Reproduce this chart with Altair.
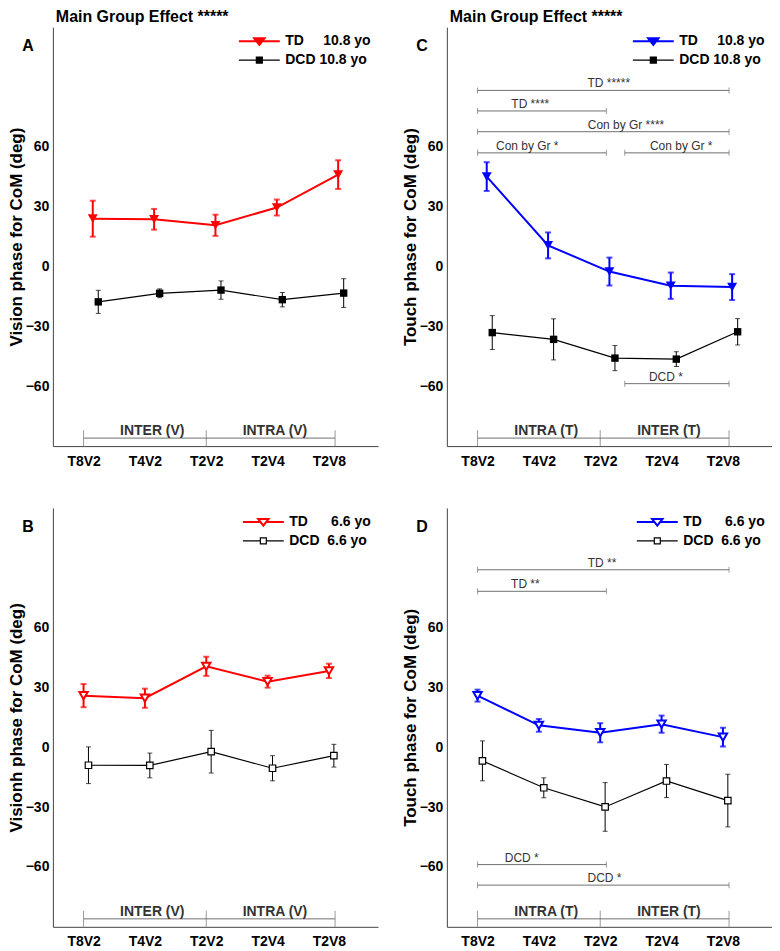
import altair as alt
import pandas as pd

conditions = ["T8V2", "T4V2", "T2V2", "T2V4", "T2V8"]
groups = ["TD", "DCD"]

# Panel A - vision phase, 10.8 yo
a_td_mean = [24.0, 23.7, 20.7, 29.6, 46.1]
a_td_err = [9.0, 5.2, 5.3, 4.0, 7.2]
a_dcd_mean = [-17.7, -13.4, -11.8, -16.6, -13.3]
a_dcd_err = [5.8, 2.2, 4.6, 3.6, 7.2]

# Panel B - vision phase, 6.6 yo
b_td_mean = [25.9, 24.6, 40.6, 32.9, 38.3]
b_td_err = [5.8, 4.8, 4.8, 3.0, 3.6]
b_dcd_mean = [-9.0, -9.1, -2.2, -10.5, -4.2]
b_dcd_err = [9.2, 6.2, 10.7, 6.3, 5.7]

# Panel C - touch phase, 10.8 yo
c_td_mean = [45.1, 10.6, -2.5, -9.6, -10.3]
c_td_err = [7.2, 6.5, 7.0, 6.6, 6.5]
c_dcd_mean = [-33.1, -36.5, -45.9, -46.4, -32.7]
c_dcd_err = [8.5, 10.3, 6.3, 3.7, 6.6]

# Panel D - touch phase, 6.6 yo
d_td_mean = [25.9, 11.0, 7.3, 11.6, 5.1]
d_td_err = [3.0, 3.2, 4.8, 4.3, 4.7]
d_dcd_mean = [-6.8, -20.3, -29.9, -16.9, -26.7]
d_dcd_err = [10.0, 5.0, 12.2, 8.3, 13.2]

NB = "\u00a0"
legend_old = ["TD" + NB * 5 + "10.8 yo", "DCD" + NB + "10.8 yo"]
legend_young = ["TD" + NB * 6 + "6.6 yo", "DCD" + NB * 2 + "6.6 yo"]

ytitle_a = "Vision phase for CoM (deg)"
ytitle_b = "Visionh phase for CoM (deg)"
ytitle_touch = "Touch phase for CoM (deg)"
main_title = "Main Group Effect *****"

# Condition section brackets (bottom)
vision_sections = ["INTER (V)", "INTRA (V)"]
touch_sections = ["INTRA (T)", "INTER (T)"]
section_tx = [2.12, 4.12]
section_edges = [1, 3, 5.1]
section_y = -86

# Significance brackets, panel C
c_br_x1 = [1, 1, 1, 1, 3.4, 3.4]
c_br_x2 = [5.1, 3.1, 5.1, 3.1, 5.1, 5.1]
c_br_y = [88.3, 78.0, 67.6, 57.0, 57.0, -58.7]
c_br_text = ["TD *****", "TD ****", "Con by Gr ****", "Con by Gr *", "Con by Gr *", "DCD *"]
c_br_tx = [3.14, 1.86, 3.42, 1.81, 4.32, 4.07]

# Significance brackets, panel D
d_br_x1 = [1, 1, 1, 1]
d_br_x2 = [5.1, 3.1, 3.1, 5.1]
d_br_y = [89.0, 78.2, -58.8, -69.1]
d_br_text = ["TD **", "TD **", "DCD *", "DCD *"]
d_br_tx = [3.03, 1.78, 1.72, 3.07]

W, H = 326, 420
X_SCALE = alt.Scale(domain=[0.5, 5.8], nice=False, zero=False)
Y_SCALE = alt.Scale(domain=[-90, 120], nice=False, zero=False)
LABEL_EXPR = "[" + ",".join("'%s'" % c for c in conditions) + "][datum.value - 1]"
LINE_GRAY = "#707070"
TEXT_GRAY = "#333333"


def panel(letter, ytitle, td_mean, td_err, dcd_mean, dcd_err, main_color, filled,
          dodge, legend_labels, section_labels, brackets=None, title=None):
    x_axis = alt.Axis(values=[1, 2, 3, 4, 5], labelExpr=LABEL_EXPR, title=None, ticks=False,
                      grid=False, domainColor="#444444", labelFontSize=14, labelFontWeight="bold",
                      labelColor="black", labelPadding=8, minExtent=22, maxExtent=22,
                      labelFlush=False)
    y_axis = alt.Axis(values=[-60, -30, 0, 30, 60], title=ytitle, ticks=False, grid=False,
                      domainColor="#444444", labelFontSize=14, labelFontWeight="bold",
                      labelColor="black", labelPadding=4, minExtent=26, maxExtent=26,
                      titleFontSize=17, titleFontWeight="bold", titleColor="black",
                      titlePadding=1)

    def X(f):
        return alt.X(f"{f}:Q", scale=X_SCALE, axis=x_axis)

    def Y(f):
        return alt.Y(f"{f}:Q", scale=Y_SCALE, axis=y_axis)

    colors = {"TD": main_color, "DCD": "#000000"}
    widths = {"TD": 2.0, "DCD": 1.2}
    shapes = {"TD": "triangle-down", "DCD": "square"}
    sizes = {"TD": 100 if filled else 70, "DCD": 55 if filled else 42}
    caps = {"TD": 6, "DCD": 5}
    bar_w = {"TD": 2.0, "DCD": 1.0}

    rows = []
    for g, means, errs in (("TD", td_mean, td_err), ("DCD", dcd_mean, dcd_err)):
        for i, c in enumerate(conditions):
            rows.append({"group": g, "cond": c, "pos": i + 1 + dodge[g], "mean": means[i],
                         "lo": means[i] - errs[i], "hi": means[i] + errs[i]})
    df = pd.DataFrame(rows)

    if filled:
        td_path = "M-4.1,0L4.1,0M-1.05,-0.6L1.05,-0.6L0,0.75Z"
        dcd_path = "M-4.1,0L4.1,0M-0.6,-0.6L0.6,-0.6L0.6,0.6L-0.6,0.6Z"
    else:
        td_path = "M-4.1,0L-0.58,0M0.58,0L4.1,0M-1.05,-0.6L1.05,-0.6L0,0.75Z"
        dcd_path = "M-4.1,0L-0.6,0M0.6,0L4.1,0M-0.6,-0.6L0.6,-0.6L0.6,0.6L-0.6,0.6Z"

    leg_kw = dict(
        title=None, orient="top-right", offset=7, padding=0, rowPadding=4,
        labelFontSize=14, labelFontWeight="bold", labelColor="black", labelOffset=19,
        labelExpr=f"datum.value === 'TD' ? '{legend_labels[0]}' : '{legend_labels[1]}'",
        symbolSize=100, symbolOpacity=1,
        symbolType={"expr": f"datum.value === 'TD' ? '{td_path}' : '{dcd_path}'"},
        symbolStrokeWidth={"expr": "datum.value === 'TD' ? 2 : 1.2"},
        symbolStrokeColor={"expr": f"datum.value === 'TD' ? '{main_color}' : '#000000'"},
    )
    if not filled:
        leg_kw["symbolFillColor"] = "#ffffff"
    legend = alt.Legend(**leg_kw)
    cscale = alt.Scale(domain=groups, range=[main_color, "#000000"])

    layers = []

    # bottom condition brackets
    sec_line = pd.DataFrame({"x1": [section_edges[0]], "x2": [section_edges[-1]], "y": [section_y]})
    sec_ticks = pd.DataFrame({"x": section_edges, "y": [section_y] * len(section_edges)})
    sec_text = pd.DataFrame({"tx": section_tx, "y": [section_y] * 2, "text": section_labels})
    layers.append(alt.Chart(sec_line).mark_rule(color=LINE_GRAY, strokeWidth=1).encode(
        x=X("x1"), x2="x2:Q", y=Y("y")))
    layers.append(alt.Chart(sec_ticks).mark_tick(orient="vertical", size=16, thickness=1,
                                                 color=LINE_GRAY).encode(x=X("x"), y=Y("y")))
    layers.append(alt.Chart(sec_text).mark_text(fontSize=14, fontWeight="bold", color=TEXT_GRAY,
                                                baseline="alphabetic", dy=-3).encode(
        x=X("tx"), y=Y("y"), text="text:N"))

    # significance brackets
    if brackets is not None:
        x1, x2, yv, txt, tx = brackets
        bdf = pd.DataFrame({"x1": x1, "x2": x2, "y": yv, "text": txt, "tx": tx})
        layers.append(alt.Chart(bdf).mark_rule(color=LINE_GRAY, strokeWidth=1).encode(
            x=X("x1"), x2="x2:Q", y=Y("y")))
        layers.append(alt.Chart(bdf).mark_tick(orient="vertical", size=6, thickness=1,
                                               color=LINE_GRAY).encode(x=X("x1"), y=Y("y")))
        layers.append(alt.Chart(bdf).mark_tick(orient="vertical", size=6, thickness=1,
                                               color=LINE_GRAY).encode(x=X("x2"), y=Y("y")))
        layers.append(alt.Chart(bdf).mark_text(fontSize=12, color=TEXT_GRAY,
                                               baseline="alphabetic", dy=-3).encode(
            x=X("tx"), y=Y("y"), text="text:N"))

    for g in groups:
        sub = df[df["group"] == g]
        col = colors[g]
        layers.append(alt.Chart(sub).mark_line(color=col, strokeWidth=widths[g]).encode(
            x=X("pos"), y=Y("mean")))
    for g in groups:
        sub = df[df["group"] == g]
        col = colors[g]
        layers.append(alt.Chart(sub).mark_rule(color=col, strokeWidth=bar_w[g]).encode(
            x=X("pos"), y=Y("lo"), y2="hi:Q"))
        for f in ("lo", "hi"):
            layers.append(alt.Chart(sub).mark_tick(orient="horizontal", size=caps[g],
                                                   thickness=bar_w[g], color=col).encode(
                x=X("pos"), y=Y(f)))
    for g in groups:
        sub = df[df["group"] == g]
        col = colors[g]
        if filled:
            pt = alt.Chart(sub).mark_point(shape=shapes[g], size=sizes[g], filled=True, opacity=1)
        else:
            pt = alt.Chart(sub).mark_point(shape=shapes[g], size=sizes[g], filled=False,
                                           fill="#ffffff", opacity=1, strokeWidth=widths[g])
        layers.append(pt.encode(x=X("pos"), y=Y("mean"),
                                color=alt.Color("group:N", scale=cscale, legend=legend)))

    layers.append(alt.Chart(pd.DataFrame({"t": [letter]})).mark_text(
        x=-25, y=19, fontSize=16, fontWeight="bold", color="black", align="center",
        baseline="middle").encode(text="t:N"))

    ch = alt.layer(*layers).properties(width=W, height=H)
    if title:
        ch = ch.properties(title=alt.TitleParams(title, anchor="start", frame="group",
                                                 fontSize=16, fontWeight="bold", color="black",
                                                 offset=2, dx=3))
    return ch


dodge_old = {"TD": 0.15, "DCD": 0.24}
dodge_young = {"TD": 0.0, "DCD": 0.08}

pA = panel("A", ytitle_a, a_td_mean, a_td_err, a_dcd_mean, a_dcd_err, "#ff0000", True,
           dodge_old, legend_old, vision_sections, title=main_title)
pB = panel("B", ytitle_b, b_td_mean, b_td_err, b_dcd_mean, b_dcd_err, "#ff0000", False,
           dodge_young, legend_young, vision_sections)
pC = panel("C", ytitle_touch, c_td_mean, c_td_err, c_dcd_mean, c_dcd_err, "#0000ff", True,
           dodge_old, legend_old, touch_sections,
           brackets=(c_br_x1, c_br_x2, c_br_y, c_br_text, c_br_tx), title=main_title)
pD = panel("D", ytitle_touch, d_td_mean, d_td_err, d_dcd_mean, d_dcd_err, "#0000ff", False,
           dodge_young, legend_young, touch_sections,
           brackets=(d_br_x1, d_br_x2, d_br_y, d_br_text, d_br_tx))

top = alt.hconcat(pA, pC, spacing=24).resolve_scale(color="independent")
bottom = alt.hconcat(pB, pD, spacing=24).resolve_scale(color="independent")
chart = alt.vconcat(top, bottom, spacing=40).resolve_scale(color="independent").properties(
    padding=0).configure(
    font="Liberation Sans",
    style={"group-title": {"fontSize": 16, "fontWeight": "bold", "color": "black"}},
).configure_view(stroke=None).configure_title(
    fontSize=16, fontWeight="bold", color="black", anchor="start", frame="group", offset=2)

chart.save("out.html", embed_options={"renderer": "svg", "actions": False})
